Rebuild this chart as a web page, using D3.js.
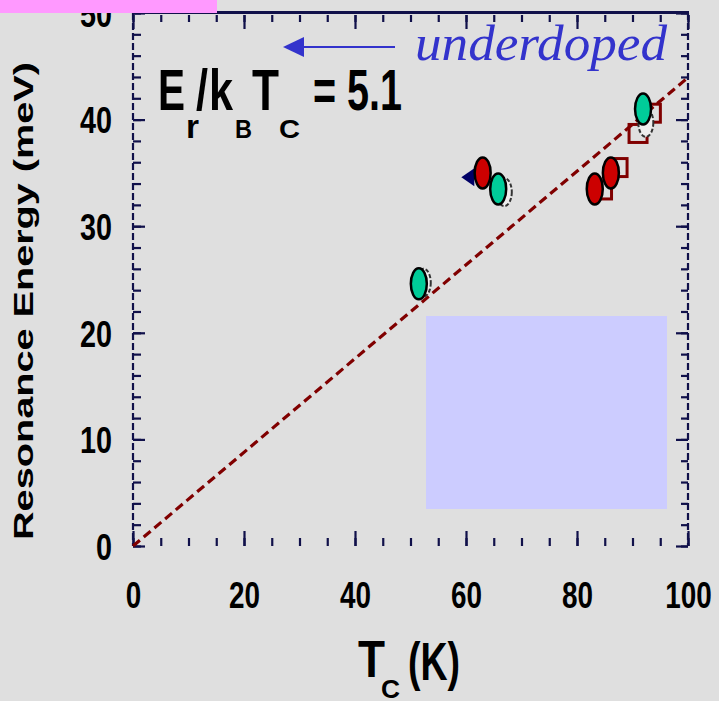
<!DOCTYPE html>
<html>
<head>
<meta charset="utf-8">
<script src="https://cdn.jsdelivr.net/npm/d3@7"></script>
<style>
  html, body { margin: 0; padding: 0; background: #dfdfdf; }
  svg { display: block; }
</style>
</head>
<body>
<svg id="chart" width="719" height="701"></svg>
<script>
// ---- data ----
const xTickValues = [0, 20, 40, 60, 80, 100];
const yTickValues = [0, 10, 20, 30, 40, 50];
const xMinorTicks = [0,5,10,15,20,25,30,35,40,45,50,55,60,65,70,75,80,85,90,95,100];
const yMinorTicks = [0,2,4,6,8,10,12,14,16,18,20,22,24,26,28,30,32,34,36,38,40,42,44,46,48,50];

const tcRed = [63.0, 83.2, 86.1];
const erRed = [35.0, 33.5, 35.0];
const tcGreen = [51.5, 65.8, 91.9];
const erGreen = [24.6, 33.5, 41.0];
const tcOpen = [52.3, 66.9, 92.4];
const erOpen = [24.7, 33.2, 39.7];
const tcSquare = [84.6, 87.4, 91.0, 93.4];
const erSquare = [33.4, 35.5, 38.7, 40.6];
const tcTriangle = [60.6];
const erTriangle = [34.6];

const ratioValue = 5.1;          // E_r / k_B T_c
const kB = 0.08617;              // meV/K
const fitTc = [0, 100];

const xTitle = "T";
const yTitle = "Resonance Energy (meV)";
const annotation = "underdoped";

// ---- layout ----
const svg = d3.select("#chart");
const x = d3.scaleLinear().domain([0, 100]).range([133, 688]);
const y = d3.scaleLinear().domain([0, 50]).range([546, 13]);
const navy = "#10104a";

// background
svg.append("rect").attr("width", 719).attr("height", 701).attr("fill", "#dfdfdf");

// shaded box
svg.append("rect").attr("x", 426).attr("y", 316).attr("width", 241).attr("height", 193)
  .attr("fill", "#ccccff");

// y tick labels (drawn before pink box so "50" is partly hidden)
const yAxis = d3.axisLeft(y).tickValues(yTickValues).tickSize(0).tickPadding(20)
  .tickFormat(d3.format("d"));
const gy = svg.append("g").attr("transform", "translate(133,0)").call(yAxis);
gy.select(".domain").remove();
gy.selectAll("text")
  .attr("font-family", "Liberation Sans, Arial, sans-serif")
  .attr("font-weight", "bold").attr("font-size", 37).attr("fill", "#000")
  .attr("x", -21).attr("dy", "0.36em")
  .attr("textLength", d => String(d).length * 16).attr("lengthAdjust", "spacingAndGlyphs");

// x tick labels
const xAxis = d3.axisBottom(x).tickValues(xTickValues).tickSize(0).tickPadding(36)
  .tickFormat(d3.format("d"));
const gx = svg.append("g").attr("transform", "translate(0,546)").call(xAxis);
gx.select(".domain").remove();
gx.selectAll("text")
  .attr("font-family", "Liberation Sans, Arial, sans-serif")
  .attr("font-weight", "bold").attr("font-size", 37).attr("fill", "#000")
  .attr("dy", "0").attr("y", 62)
  .attr("textLength", d => String(d).length * 15.5).attr("lengthAdjust", "spacingAndGlyphs");

// inner ticks via axes
function styleTicks(g) {
  g.select(".domain").remove();
  g.selectAll("text").remove();
  g.selectAll("line").attr("stroke", navy).attr("stroke-width", 2.2);
}
// bottom
svg.append("g").attr("transform", "translate(0,546)")
  .call(d3.axisBottom(x).tickValues(xMinorTicks).tickSize(-8)).call(styleTicks);
svg.append("g").attr("transform", "translate(0,546)")
  .call(d3.axisBottom(x).tickValues(xTickValues).tickSize(-15)).call(styleTicks);
// top
svg.append("g").attr("transform", "translate(0,15)")
  .call(d3.axisTop(x).tickValues(xMinorTicks).tickSize(-7)).call(styleTicks);
svg.append("g").attr("transform", "translate(0,15)")
  .call(d3.axisTop(x).tickValues(xTickValues).tickSize(-14)).call(styleTicks);
// left
svg.append("g").attr("transform", "translate(133,0)")
  .call(d3.axisLeft(y).tickValues(yMinorTicks).tickSize(-8)).call(styleTicks);
svg.append("g").attr("transform", "translate(133,0)")
  .call(d3.axisLeft(y).tickValues(yTickValues).tickSize(-12)).call(styleTicks);
// right
svg.append("g").attr("transform", "translate(688,0)")
  .call(d3.axisRight(y).tickValues(yMinorTicks).tickSize(-7)).call(styleTicks);
svg.append("g").attr("transform", "translate(688,0)")
  .call(d3.axisRight(y).tickValues(yTickValues).tickSize(-12)).call(styleTicks);

// frame
svg.append("line").attr("x1", 133).attr("x2", 133).attr("y1", 13).attr("y2", 546)
  .attr("stroke", navy).attr("stroke-width", 2.2).attr("stroke-dasharray", "7,3");
svg.append("line").attr("x1", 688).attr("x2", 688).attr("y1", 13).attr("y2", 546)
  .attr("stroke", navy).attr("stroke-width", 2.2).attr("stroke-dasharray", "7,3");
svg.append("line").attr("x1", 133).attr("x2", 689).attr("y1", 12.5).attr("y2", 12.5)
  .attr("stroke", navy).attr("stroke-width", 3);

// fit line E = ratio * kB * Tc
svg.append("line")
  .attr("x1", x(fitTc[0])).attr("y1", y(ratioValue * kB * fitTc[0]))
  .attr("x2", x(fitTc[1])).attr("y2", y(ratioValue * kB * fitTc[1]))
  .attr("stroke", "#800000").attr("stroke-width", 3.2).attr("stroke-dasharray", "9,5");

// background markers: open squares
svg.selectAll(".sq").data(tcSquare.map((t, i) => [t, erSquare[i]])).enter()
  .append("rect").attr("class", "sq")
  .attr("x", d => x(d[0]) - 9).attr("y", d => y(d[1]) - 9)
  .attr("width", 18).attr("height", 18)
  .attr("fill", "none").attr("stroke", "#800000").attr("stroke-width", 3);

// triangle
svg.selectAll(".tri").data(tcTriangle.map((t, i) => [t, erTriangle[i]])).enter()
  .append("path").attr("class", "tri")
  .attr("transform", d => `translate(${x(d[0])},${y(d[1])})`)
  .attr("d", "M-8,0 L5,-9 L5,9 Z").attr("fill", "#000066");

// open ellipses
svg.selectAll(".open").data(tcOpen.map((t, i) => [t, erOpen[i]])).enter()
  .append("ellipse").attr("class", "open")
  .attr("cx", d => x(d[0])).attr("cy", d => y(d[1]))
  .attr("rx", 7.5).attr("ry", 14)
  .attr("fill", "#eeeeee").attr("stroke", "#333").attr("stroke-width", 2)
  .attr("stroke-dasharray", "4,2");

// green ellipses
svg.selectAll(".green").data(tcGreen.map((t, i) => [t, erGreen[i]])).enter()
  .append("ellipse").attr("class", "green")
  .attr("cx", d => x(d[0])).attr("cy", d => y(d[1]))
  .attr("rx", 8).attr("ry", 15.5)
  .attr("fill", "#00cc99").attr("stroke", "#000").attr("stroke-width", 2.5);

// red ellipses
svg.selectAll(".red").data(tcRed.map((t, i) => [t, erRed[i]])).enter()
  .append("ellipse").attr("class", "red")
  .attr("cx", d => x(d[0])).attr("cy", d => y(d[1]))
  .attr("rx", 8).attr("ry", 15.5)
  .attr("fill", "#cc0000").attr("stroke", "#000").attr("stroke-width", 2.5);

// pink box top-left
svg.append("rect").attr("x", 0).attr("y", 0).attr("width", 217).attr("height", 13)
  .attr("fill", "#ff99ff");

// arrow + underdoped
svg.append("line").attr("x1", 300).attr("x2", 395).attr("y1", 47).attr("y2", 47)
  .attr("stroke", "#3333cc").attr("stroke-width", 2);
svg.append("path").attr("d", "M283,47 L304,37 L304,57 Z").attr("fill", "#3333cc");
svg.append("text").attr("x", 415).attr("y", 60)
  .attr("font-family", "Liberation Serif, Times New Roman, serif")
  .attr("font-style", "italic").attr("font-size", 50).attr("fill", "#3333cc")
  .attr("textLength", 252).attr("lengthAdjust", "spacingAndGlyphs")
  .text(annotation);

// formula E_r/k_B T_C = 5.1
const fpieces = [
  {t: "E", x: 158, y: 110, s: 58, w: 27},
  {t: "r", x: 186, y: 138, s: 34, w: 13},
  {t: "/", x: 196, y: 110, s: 58, w: 12},
  {t: "k", x: 209, y: 110, s: 58, w: 24},
  {t: "B", x: 235, y: 138, s: 25, w: 17},
  {t: "T", x: 252, y: 110, s: 58, w: 27},
  {t: "C", x: 279, y: 138, s: 25, w: 21},
  {t: "= " + ratioValue.toFixed(1), x: 313, y: 110, s: 58, w: 89}
];
svg.selectAll(".fp").data(fpieces).enter().append("text").attr("class", "fp")
  .attr("x", d => d.x).attr("y", d => d.y)
  .attr("font-family", "Liberation Sans, Arial, sans-serif").attr("font-weight", "bold")
  .attr("font-size", d => d.s).attr("fill", "#000")
  .attr("textLength", d => d.w).attr("lengthAdjust", "spacingAndGlyphs")
  .text(d => d.t);

// x title T_C (K)
const xt = [
  {t: xTitle, x: 358, y: 677, s: 52, w: 27},
  {t: "C", x: 381, y: 698, s: 26, w: 19},
  {t: "(K)", x: 408, y: 680, s: 54, w: 52}
];
svg.selectAll(".xt").data(xt).enter().append("text").attr("class", "xt")
  .attr("x", d => d.x).attr("y", d => d.y)
  .attr("font-family", "Liberation Sans, Arial, sans-serif").attr("font-weight", "bold")
  .attr("font-size", d => d.s).attr("fill", "#000")
  .attr("textLength", d => d.w).attr("lengthAdjust", "spacingAndGlyphs")
  .text(d => d.t);

// y title
svg.append("text").attr("transform", "translate(33,540) rotate(-90)")
  .attr("font-family", "Liberation Sans, Arial, sans-serif").attr("font-weight", "bold")
  .attr("font-size", 28).attr("fill", "#000")
  .attr("textLength", 478).attr("lengthAdjust", "spacingAndGlyphs")
  .text(yTitle);
</script>
</body>
</html>
